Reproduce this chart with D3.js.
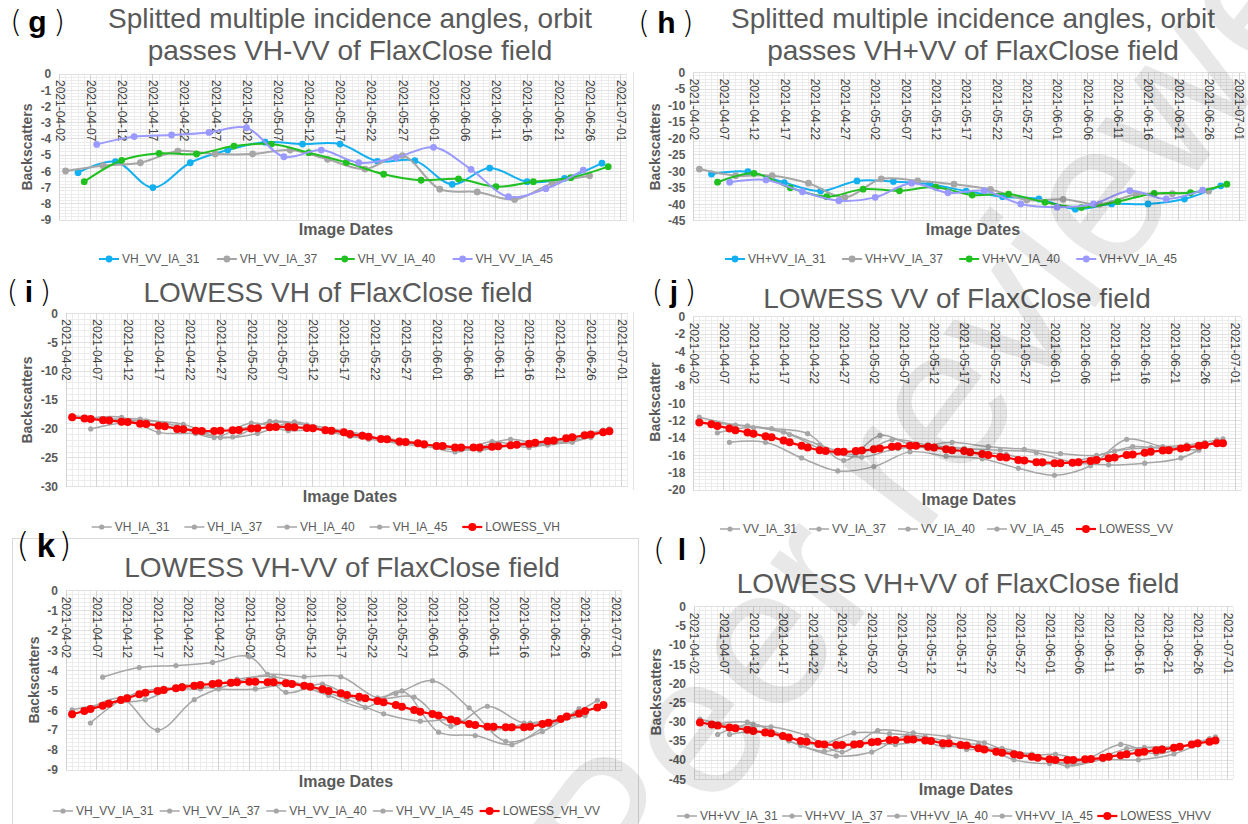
<!DOCTYPE html>
<html>
<head>
<meta charset="utf-8">
<script src="https://cdn.jsdelivr.net/npm/d3@7"></script>
<style>
  body { margin: 0; background: #fff; }
  svg { display: block; font-family: "Liberation Sans", Arial, sans-serif; }
</style>
</head>
<body>
<svg id="chart" width="1248" height="824"></svg>
<script>
// ---- data ----
const tickDates = ['2021-04-02','2021-04-07','2021-04-12','2021-04-17','2021-04-22','2021-04-27','2021-05-02',
  '2021-05-07','2021-05-12','2021-05-17','2021-05-22','2021-05-27','2021-06-01','2021-06-06','2021-06-11',
  '2021-06-16','2021-06-21','2021-06-26','2021-07-01'];

// acquisition dates of each incidence angle (orbit)
const dates31 = ['2021-04-05','2021-04-11','2021-04-17','2021-04-23','2021-04-29','2021-05-05','2021-05-11','2021-05-17',
  '2021-05-23','2021-05-29','2021-06-04','2021-06-10','2021-06-16','2021-06-22','2021-06-28'];
const dates37 = ['2021-04-03','2021-04-09','2021-04-15','2021-04-21','2021-04-27','2021-05-03','2021-05-09','2021-05-15',
  '2021-05-21','2021-05-27','2021-06-02','2021-06-08','2021-06-14','2021-06-20','2021-06-26'];
const dates40 = ['2021-04-06','2021-04-12','2021-04-18','2021-04-24','2021-04-30','2021-05-06','2021-05-12','2021-05-18',
  '2021-05-24','2021-05-30','2021-06-05','2021-06-11','2021-06-17','2021-06-23','2021-06-29'];
const dates45 = ['2021-04-08','2021-04-14','2021-04-20','2021-04-26','2021-05-02','2021-05-08','2021-05-14','2021-05-20',
  '2021-05-26','2021-06-01','2021-06-07','2021-06-13','2021-06-19','2021-06-25'];
const lowessDates = [...dates31, ...dates37, ...dates40, ...dates45].sort();

// VH-VV
const vhvv31 = [-6.08,-5.4,-7.0,-5.47,-4.69,-4.2,-4.32,-4.32,-5.38,-5.34,-6.8,-5.8,-6.64,-6.43,-5.5];
const vhvv37 = [-5.98,-5.65,-5.47,-4.75,-4.93,-4.93,-4.69,-5.26,-5.86,-5.03,-7.1,-7.27,-7.73,-6.74,-6.27];
const vhvv40 = [-6.64,-5.32,-4.89,-4.93,-4.44,-4.32,-4.85,-5.45,-6.18,-6.55,-6.47,-6.95,-6.64,-6.39,-5.71];
const vhvv45 = [-4.34,-3.86,-3.76,-3.6,-3.31,-5.1,-4.69,-5.47,-5.16,-4.52,-5.88,-7.56,-7.07,-5.92];

// VH+VV
const vhpvv31 = [-30.8,-30.1,-33.4,-36.0,-32.9,-33.1,-33.9,-36.0,-37.7,-38.4,-41.5,-39.9,-39.9,-38.4,-34.4];
const vhpvv37 = [-29.3,-31.3,-31.3,-33.6,-37.9,-32.3,-32.9,-33.9,-35.5,-38.7,-38.5,-40.0,-37.0,-36.8,-36.0];
const vhpvv40 = [-33.3,-30.6,-35.0,-37.7,-35.4,-35.9,-34.8,-37.2,-36.9,-39.4,-41.0,-39.2,-36.7,-36.5,-33.9];
const vhpvv45 = [-33.3,-32.6,-36.2,-38.9,-37.9,-33.6,-36.5,-35.9,-39.9,-40.9,-39.9,-35.9,-38.4,-35.7];

// VH
const vh31 = [-18.3,-18.0,-20.6,-20.8,-21.4,-18.7,-19.3,-20.4,-21.8,-22.5,-24.0,-22.2,-23.2,-21.8,-20.2];
const vh37 = [-17.7,-18.3,-18.6,-19.2,-21.5,-20.8,-18.8,-20.6,-21.8,-22.4,-23.0,-23.7,-22.5,-22.4,-21.5];
const vh40 = [-20.0,-18.9,-19.4,-20.6,-20.0,-18.8,-19.6,-21.3,-21.6,-23.0,-23.6,-23.2,-22.6,-22.3,-20.0];
const vh45 = [-18.5,-18.3,-19.5,-21.5,-19.0,-20.3,-20.0,-20.9,-22.6,-22.8,-23.3,-21.8,-22.8,-21.2];

// VV
const vv31 = [-12.3,-12.6,-13.3,-14.8,-15.9,-14.2,-14.8,-15.2,-15.4,-15.7,-16.8,-17.1,-16.9,-16.3,-14.2];
const vv37 = [-11.6,-12.5,-12.9,-13.5,-16.6,-13.7,-14.9,-14.5,-15.0,-15.3,-15.8,-16.0,-15.0,-15.2,-14.5];
const vv40 = [-13.4,-12.8,-13.6,-15.5,-16.2,-15.2,-15.1,-15.6,-15.9,-17.0,-16.6,-15.5,-15.1,-14.8,-14.1];
const vv45 = [-14.5,-14.5,-16.3,-17.8,-17.3,-15.6,-16.1,-16.4,-17.5,-18.3,-17.2,-14.15,-15.0,-15.4];

// LOWESS curves (one value per acquisition date, in date order)
const lowessVH = [-18.0,-18.2,-18.3,-18.5,-18.55,-18.75,-18.8,-19.1,-19.15,-19.45,-19.55,-20.0,-20.05,-20.3,-20.35,
  -20.35,-20.3,-20.25,-20.2,-19.95,-19.9,-19.7,-19.65,-19.65,-19.7,-19.85,-19.9,-20.25,-20.3,-20.6,-20.9,-21.2,
  -21.35,-21.75,-21.8,-22.2,-22.25,-22.5,-22.65,-22.95,-22.95,-23.2,-23.2,-23.2,-23.2,-23.1,-23.0,-22.85,-22.75,
  -22.55,-22.4,-22.1,-22.0,-21.6,-21.45,-21.1,-20.95,-20.6,-20.4];
const lowessVV = [-12.2,-12.4,-12.6,-12.9,-13.1,-13.35,-13.5,-13.8,-13.9,-14.3,-14.5,-14.9,-15.1,-15.4,-15.5,
  -15.6,-15.6,-15.5,-15.45,-15.3,-15.2,-15.0,-14.95,-14.9,-14.9,-15.0,-15.1,-15.3,-15.4,-15.5,-15.65,-15.85,
  -15.95,-16.2,-16.25,-16.55,-16.6,-16.8,-16.8,-16.9,-16.9,-16.85,-16.8,-16.65,-16.55,-16.35,-16.25,-15.95,-15.9,
  -15.7,-15.6,-15.45,-15.4,-15.2,-15.1,-14.9,-14.8,-14.6,-14.6];
const lowessVHminusVV = [-6.2,-6.04,-5.94,-5.77,-5.67,-5.49,-5.4,-5.2,-5.12,-5.03,-4.98,-4.9,-4.85,-4.77,-4.73,
  -4.68,-4.65,-4.62,-4.6,-4.57,-4.57,-4.6,-4.6,-4.65,-4.68,-4.77,-4.82,-4.95,-5.03,-5.15,-5.24,-5.32,-5.4,-5.54,
  -5.6,-5.74,-5.82,-5.99,-6.07,-6.19,-6.27,-6.46,-6.54,-6.69,-6.74,-6.83,-6.83,-6.86,-6.86,-6.86,-6.83,-6.69,
  -6.63,-6.44,-6.32,-6.16,-6.04,-5.86,-5.74];
const lowessVHplusVV = [-30.2,-30.7,-31.0,-31.5,-31.7,-32.1,-32.4,-32.8,-33.0,-33.7,-34.1,-35.0,-35.2,-35.8,-35.9,
  -36.05,-36.05,-35.9,-35.8,-35.35,-35.2,-34.75,-34.75,-34.6,-34.6,-34.9,-35.0,-35.6,-35.6,-36.05,-36.2,-36.9,
  -37.2,-37.8,-38.05,-38.5,-38.7,-39.1,-39.4,-39.8,-40.0,-40.0,-40.0,-39.8,-39.7,-39.4,-39.1,-38.7,-38.5,-38.05,
  -37.8,-37.4,-37.2,-36.75,-36.5,-35.9,-35.6,-35.2,-34.9];

// ---- styles ----
const FONT = '"Liberation Sans", Arial, sans-serif';
const BLUE = '#12b0f0', GREY = '#a6a6a6', GREEN = '#20c020', LILAC = '#9999ff', RED = '#ff0000';
const TEXT = '#595959';

const parse = d3.timeParse('%Y-%m-%d');
const fmt = d3.timeFormat('%Y-%m-%d');
const svg = d3.select('#chart');

function colored(names, values, colors) {
  const ds = [dates31, dates37, dates40, dates45];
  return names.map((n, i) => ({name: n, dates: ds[i], values: values[i], color: colors[i], r: 3.4, w: 2}));
}
function lowess(names, values, redName, redValues) {
  const ds = [dates31, dates37, dates40, dates45];
  const s = names.map((n, i) => ({name: n, dates: ds[i], values: values[i], color: GREY, r: 2.6, w: 1.5}));
  s.push({name: redName, dates: lowessDates, values: redValues, color: RED, r: 4, w: 2.2});
  return s;
}

const panels = [
  {tag: 'g', left: 59.3, right: 620.7, top: 74, bottom: 220, yMin: -9, yStep: 1, yMinor: 0.2,
   title: ['Splitted multiple incidence angles, orbit', 'passes VH-VV of FlaxClose field'], titleX: 350, titleY: [28, 60],
   tagX: [16, 37.5, 59], tagY: 32, tagSize: 30,
   yTitle: 'Backscatters', yTitleX: 27, yTitleY: 147, xTitleX: 346, xTitleY: 235,
   legendY: 259, legendL: 99, legendR: 553,
   series: colored(['VH_VV_IA_31','VH_VV_IA_37','VH_VV_IA_40','VH_VV_IA_45'], [vhvv31, vhvv37, vhvv40, vhvv45], [BLUE, GREY, GREEN, LILAC])},
  {tag: 'h', left: 693.3, right: 1239, top: 72.7, bottom: 220.7, yMin: -45, yStep: 5, yMinor: 1,
   title: ['Splitted multiple incidence angles, orbit', 'passes VH+VV of FlaxClose field'], titleX: 973, titleY: [28, 60],
   tagX: [644, 666.5, 687.5], tagY: 33, tagSize: 30,
   yTitle: 'Backscatters', yTitleX: 655, yTitleY: 147, xTitleX: 973, xTitleY: 235,
   legendY: 259, legendL: 725, legendR: 1177,
   series: colored(['VH+VV_IA_31','VH+VV_IA_37','VH+VV_IA_40','VH+VV_IA_45'], [vhpvv31, vhpvv37, vhpvv40, vhpvv45], [BLUE, GREY, GREEN, LILAC])},
  {tag: 'i', left: 66, right: 621.7, top: 313.3, bottom: 486.7, yMin: -30, yStep: 5, yMinor: 1,
   title: ['LOWESS VH of FlaxClose field'], titleX: 338, titleY: [302],
   tagX: [12.5, 29, 45], tagY: 302, tagSize: 30,
   yTitle: 'Backscatters', yTitleX: 27.5, yTitleY: 400, xTitleX: 350, xTitleY: 502,
   legendY: 527, legendL: 91.7, legendR: 560,
   series: lowess(['VH_IA_31','VH_IA_37','VH_IA_40','VH_IA_45'], [vh31, vh37, vh40, vh45], 'LOWESS_VH', lowessVH)},
  {tag: 'j', left: 693.3, right: 1235, top: 316.7, bottom: 490, yMin: -20, yStep: 2, yMinor: 0.4,
   title: ['LOWESS VV of FlaxClose field'], titleX: 957, titleY: [308],
   tagX: [657.5, 674, 690], tagY: 302, tagSize: 30,
   yTitle: 'Backscatter', yTitleX: 655, yTitleY: 402, xTitleX: 969, xTitleY: 505,
   legendY: 529, legendL: 720, legendR: 1173,
   series: lowess(['VV_IA_31','VV_IA_37','VV_IA_40','VV_IA_45'], [vv31, vv37, vv40, vv45], 'LOWESS_VV', lowessVV)},
  {tag: 'k', left: 66, right: 615.7, top: 590.7, bottom: 770, yMin: -9, yStep: 1, yMinor: 0.2,
   title: ['LOWESS VH-VV of FlaxClose field'], titleX: 342, titleY: [577],
   tagX: [23, 46, 65], tagY: 557, tagSize: 33,
   yTitle: 'Backscatters', yTitleX: 34, yTitleY: 680, xTitleX: 346, xTitleY: 787,
   legendY: 811, legendL: 53, legendR: 600,
   series: lowess(['VH_VV_IA_31','VH_VV_IA_37','VH_VV_IA_40','VH_VV_IA_45'], [vhvv31, vhvv37, vhvv40, vhvv45], 'LOWESS_VH_VV', lowessVHminusVV)},
  {tag: 'l', left: 694, right: 1227.3, top: 606.7, bottom: 779.3, yMin: -45, yStep: 5, yMinor: 1,
   title: ['LOWESS VH+VV of FlaxClose field'], titleX: 958, titleY: [593],
   tagX: [659, 682, 702], tagY: 560, tagSize: 30,
   yTitle: 'Backscatters', yTitleX: 656, yTitleY: 692, xTitleX: 966, xTitleY: 795,
   legendY: 816, legendL: 677, legendR: 1211,
   series: lowess(['VH+VV_IA_31','VH+VV_IA_37','VH+VV_IA_40','VH+VV_IA_45'], [vhpvv31, vhpvv37, vhpvv40, vhpvv45], 'LOWESS_VHVV', lowessVHplusVV)}
];

// faint chart frames
svg.append('rect').attr('x', 12.5).attr('y', 538.5).attr('width', 626).attr('height', 300)
  .attr('fill', 'none').attr('stroke', '#d9d9d9');
svg.append('line').attr('x1', 633.5).attr('x2', 633.5).attr('y1', 72).attr('y2', 222).attr('stroke', '#e3e3e3');
svg.append('line').attr('x1', 633.5).attr('x2', 633.5).attr('y1', 312).attr('y2', 490).attr('stroke', '#e3e3e3');

function drawPanel(p) {
  const g = svg.append('g');
  const x = d3.scaleTime()
    .domain([parse(tickDates[0]), parse(tickDates[tickDates.length - 1])])
    .range([p.left, p.right]);
  const y = d3.scaleLinear().domain([p.yMin, 0]).range([p.bottom, p.top]);
  const gridEnd = Math.min(x(parse('2021-07-02')), 1248);

  // grid
  const grid = g.append('g').attr('shape-rendering', 'crispEdges');
  const nMinor = Math.round(-p.yMin / p.yMinor);
  grid.selectAll('line.hmin').data(d3.range(nMinor + 1).map(i => p.yMin + i * p.yMinor)).join('line')
    .attr('class', 'hmin').attr('x1', p.left).attr('x2', gridEnd)
    .attr('y1', d => y(d)).attr('y2', d => y(d)).attr('stroke', '#ececec');
  grid.selectAll('line.vmin').data(d3.timeDay.range(parse('2021-04-02'), parse('2021-07-03'))).join('line')
    .attr('class', 'vmin').attr('x1', d => x(d)).attr('x2', d => x(d))
    .attr('y1', p.top).attr('y2', p.bottom).attr('stroke', '#ececec');
  const yTicks = d3.range(Math.round(-p.yMin / p.yStep) + 1).map(i => -i * p.yStep);
  grid.selectAll('line.hmaj').data(yTicks).join('line')
    .attr('class', 'hmaj').attr('x1', p.left).attr('x2', gridEnd)
    .attr('y1', d => y(d)).attr('y2', d => y(d)).attr('stroke', '#e0e0e0');
  grid.selectAll('line.vmaj').data(tickDates.map(parse)).join('line')
    .attr('class', 'vmaj').attr('x1', d => x(d)).attr('x2', d => x(d))
    .attr('y1', p.top).attr('y2', p.bottom).attr('stroke', '#d4d4d4');

  // axes
  g.append('g')
    .attr('transform', `translate(${p.left},0)`)
    .call(d3.axisLeft(y).tickValues(yTicks).tickFormat(d => String(d)).tickSize(0).tickPadding(8))
    .call(a => a.select('.domain').remove())
    .selectAll('text')
      .attr('fill', TEXT)
      .style('font-family', FONT).style('font-size', '12px').style('font-weight', 'bold');

  g.append('g')
    .attr('transform', `translate(0,${p.top})`)
    .call(d3.axisBottom(x).tickValues(tickDates.map(parse)).tickFormat(fmt).tickSize(0))
    .call(a => a.select('.domain').remove())
    .selectAll('text')
      .attr('fill', '#3f3f3f')
      .style('font-family', FONT).style('font-size', '12px')
      .attr('transform', 'rotate(90)')
      .attr('x', 6).attr('y', 0).attr('dy', '0.35em')
      .attr('text-anchor', 'start');

  // series
  const line = d3.line()
    .x(d => x(d.date)).y(d => y(d.value))
    .curve(d3.curveCatmullRom.alpha(0.5));
  p.series.forEach(s => {
    const pts = s.values.map((v, i) => ({date: parse(s.dates[i]), value: v}));
    const sg = g.append('g');
    sg.append('path').datum(pts).attr('d', line)
      .attr('fill', 'none').attr('stroke', s.color).attr('stroke-width', s.w);
    sg.selectAll('circle').data(pts).join('circle')
      .attr('cx', d => x(d.date)).attr('cy', d => y(d.value)).attr('r', s.r).attr('fill', s.color);
  });

  // titles
  g.append('g').selectAll('text').data(p.title).join('text')
    .attr('x', p.titleX).attr('y', (d, i) => p.titleY[i])
    .attr('text-anchor', 'middle').attr('font-size', 28).attr('fill', TEXT).text(d => d);

  g.append('text')
    .attr('transform', `translate(${p.yTitleX},${p.yTitleY}) rotate(-90)`)
    .attr('dy', '0.35em').attr('text-anchor', 'middle')
    .attr('font-size', 14).attr('font-weight', 'bold').attr('fill', TEXT).text(p.yTitle);

  g.append('text')
    .attr('x', p.xTitleX).attr('y', p.xTitleY).attr('text-anchor', 'middle')
    .attr('font-size', 16).attr('font-weight', 'bold').attr('fill', TEXT).text('Image Dates');

  // panel tag
  const tag = g.append('g').attr('text-anchor', 'middle').attr('fill', '#000');
  tag.append('text').attr('x', p.tagX[0]).attr('y', p.tagY).attr('font-family', 'DejaVu Sans')
    .attr('font-size', p.tagSize).attr('font-weight', 200).text('(');
  tag.append('text').attr('x', p.tagX[1]).attr('y', p.tagY)
    .attr('font-size', p.tagSize).attr('font-weight', 'bold').text(p.tag);
  tag.append('text').attr('x', p.tagX[2]).attr('y', p.tagY).attr('font-family', 'DejaVu Sans')
    .attr('font-size', p.tagSize).attr('font-weight', 200).text(')');

  // legend
  const leg = g.append('g').attr('font-size', 12);
  const items = leg.selectAll('g').data(p.series).join('g');
  items.append('line').attr('x1', 0).attr('x2', 20).attr('y1', p.legendY).attr('y2', p.legendY)
    .attr('stroke', d => d.color).attr('stroke-width', d => d.w);
  items.append('circle').attr('cx', 10).attr('cy', p.legendY).attr('r', d => d.r).attr('fill', d => d.color);
  items.append('text').attr('x', 23).attr('y', p.legendY).attr('dy', '0.35em')
    .attr('fill', TEXT).text(d => d.name);
  const widths = items.nodes().map(n => 23 + n.querySelector('text').getComputedTextLength());
  const gap = (p.legendR - p.legendL - d3.sum(widths)) / (widths.length - 1);
  let cx = p.legendL;
  items.attr('transform', (d, i) => {
    const t = `translate(${cx},0)`;
    cx += widths[i] + gap;
    return t;
  });
}

panels.forEach(drawPanel);

// watermark
svg.append('text')
  .attr('transform', 'translate(632,922) rotate(-53)')
  .attr('font-size', 200).attr('fill', '#000').attr('fill-opacity', 0.09)
  .text('Peer reviewed');
</script>
</body>
</html>
